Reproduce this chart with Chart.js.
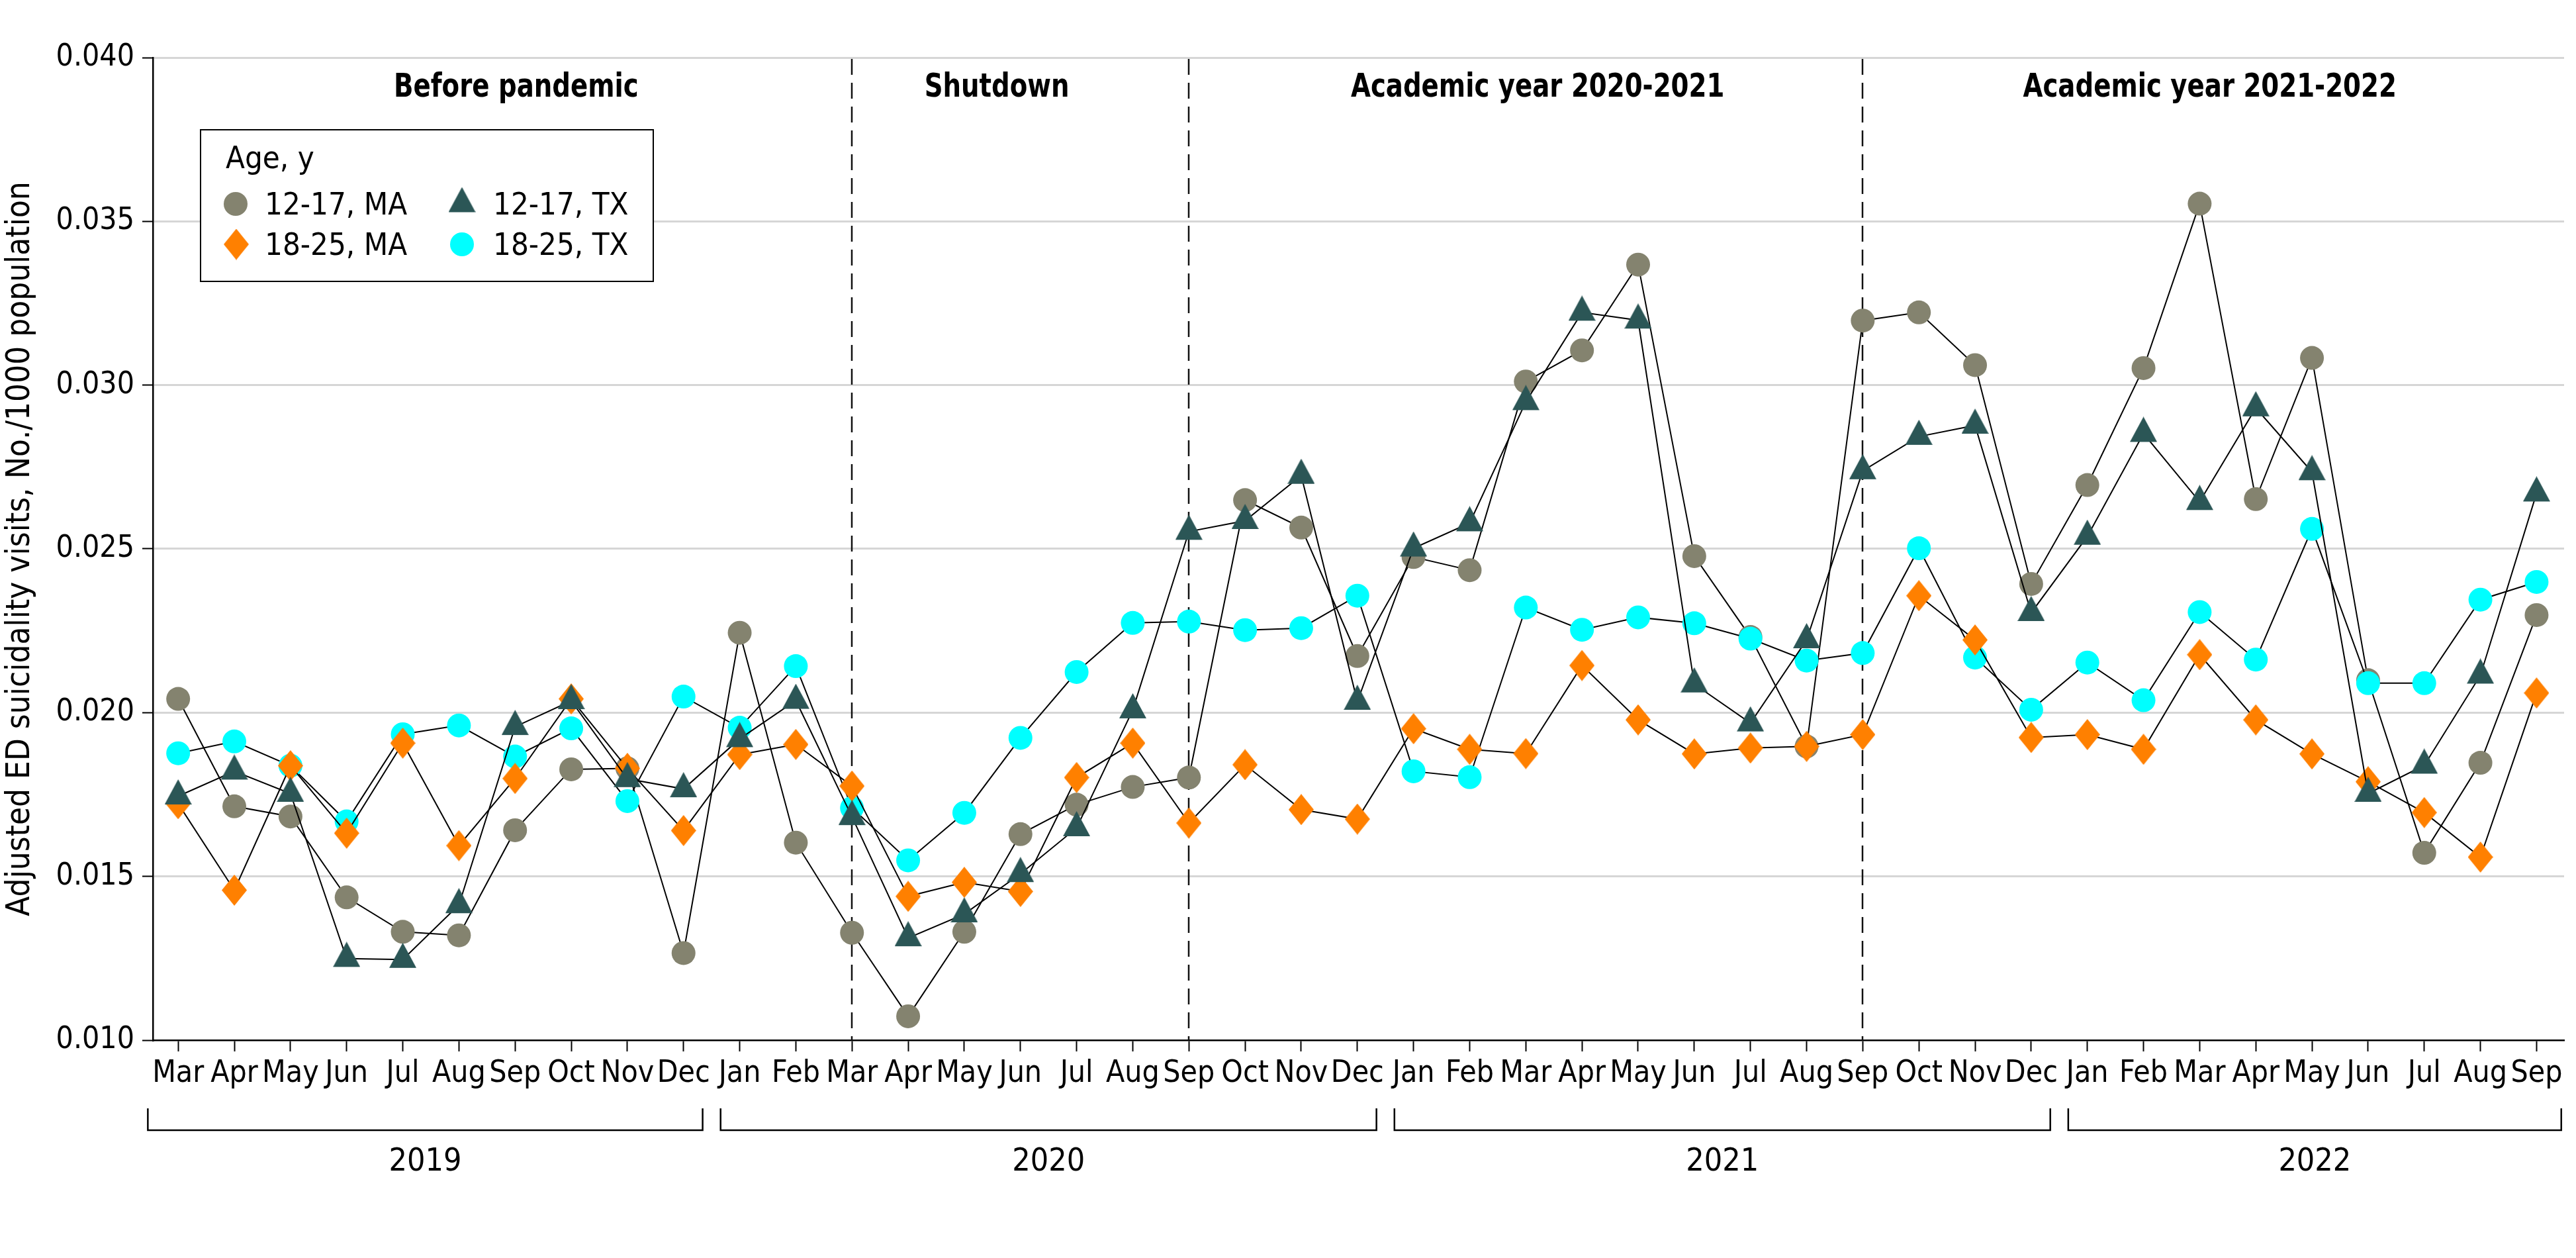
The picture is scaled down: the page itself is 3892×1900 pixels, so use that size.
<!DOCTYPE html>
<html>
<head>
<meta charset="utf-8">
<script src="https://cdn.jsdelivr.net/npm/chart.js@4.4.1/dist/chart.umd.min.js"></script>
<style>
  html, body { margin: 0; padding: 0; background: #fff; overflow: hidden; }
  #wrap { width: 3892px; height: 1900px; position: relative; }
</style>
</head>
<body>
<div id="wrap"><canvas id="chart"></canvas></div>
<script>
// ── DATA ────────────────────────────────────────────────
const MONTHS = [
  'Mar','Apr','May','Jun','Jul','Aug','Sep','Oct','Nov','Dec',
  'Jan','Feb','Mar','Apr','May','Jun','Jul','Aug','Sep','Oct','Nov','Dec',
  'Jan','Feb','Mar','Apr','May','Jun','Jul','Aug','Sep','Oct','Nov','Dec',
  'Jan','Feb','Mar','Apr','May','Jun','Jul','Aug','Sep'
];
const YEARS = ['2019', '2020', '2021', '2022'];
const PERIODS = ['Before pandemic', 'Shutdown', 'Academic year 2020-2021', 'Academic year 2021-2022'];
const PERIOD_BREAKS = [12, 18, 30];   // Mar 2020, Sep 2020, Sep 2021
const Y_TICKS = [0.010, 0.015, 0.020, 0.025, 0.030, 0.035, 0.040];

const ma1217 = [
  0.02042, 0.01714, 0.01683, 0.01436, 0.01331, 0.01320, 0.01641, 0.01827, 0.01830, 0.01266,
  0.02244, 0.01603, 0.01328, 0.01073, 0.01331, 0.01629, 0.01719, 0.01773, 0.01802, 0.02649, 0.02565, 0.02173,
  0.02475, 0.02435, 0.03011, 0.03106, 0.03368, 0.02478, 0.02231, 0.01897, 0.03197, 0.03222, 0.03061, 0.02393,
  0.02695, 0.03052, 0.03554, 0.02652, 0.03083, 0.02099, 0.01572, 0.01847, 0.02298
];
const tx1217 = [
  0.01745, 0.01821, 0.01753, 0.01249, 0.01246, 0.01413, 0.01957, 0.02036, 0.01798, 0.01767,
  0.01920, 0.02037, 0.01682, 0.01312, 0.01385, 0.01508, 0.01648, 0.02008, 0.02553, 0.02586, 0.02724, 0.02034,
  0.02502, 0.02579, 0.02949, 0.03222, 0.03198, 0.02087, 0.01968, 0.02222, 0.02738, 0.02843, 0.02877, 0.02305,
  0.02538, 0.02852, 0.02644, 0.02930, 0.02735, 0.01753, 0.01839, 0.02114, 0.02670
];
const ma1825 = [
  0.01722, 0.01458, 0.01838, 0.01632, 0.01907, 0.01594, 0.01799, 0.02042, 0.01830, 0.01640,
  0.01872, 0.01903, 0.01776, 0.01439, 0.01482, 0.01454, 0.01802, 0.01907, 0.01663, 0.01841, 0.01704, 0.01675,
  0.01951, 0.01888, 0.01875, 0.02144, 0.01978, 0.01874, 0.01892, 0.01897, 0.01933, 0.02357, 0.02222, 0.01924,
  0.01933, 0.01888, 0.02177, 0.01978, 0.01874, 0.01789, 0.01695, 0.01559, 0.02060
];
const tx1825 = [
  0.01876, 0.01912, 0.01838, 0.01668, 0.01934, 0.01961, 0.01866, 0.01952, 0.01730, 0.02049,
  0.01954, 0.02142, 0.01709, 0.01549, 0.01694, 0.01923, 0.02124, 0.02274, 0.02278, 0.02252, 0.02258, 0.02357,
  0.01821, 0.01803, 0.02321, 0.02253, 0.02291, 0.02273, 0.02226, 0.02159, 0.02182, 0.02502, 0.02168, 0.02009,
  0.02153, 0.02038, 0.02307, 0.02162, 0.02561, 0.02090, 0.02090, 0.02345, 0.02399
];

// ── STYLE ───────────────────────────────────────────────
const FONT = "'DejaVu Sans Condensed', 'DejaVu Sans', sans-serif";
const C_GRAY = '#84836f';
const C_TEAL = '#2b5656';
const C_ORANGE = '#ff8000';
const C_CYAN = '#00ffff';

// marker shapes drawn once on small canvases
function makeDiamond(w, h, color) {
  const c = document.createElement('canvas');
  c.width = w; c.height = h;
  const g = c.getContext('2d');
  g.fillStyle = color;
  g.beginPath();
  g.moveTo(w / 2, 0); g.lineTo(w, h / 2); g.lineTo(w / 2, h); g.lineTo(0, h / 2);
  g.closePath(); g.fill();
  return c;
}
function makeTriangle(w, h, color) {
  // centroid sits at canvas centre
  const c = document.createElement('canvas');
  c.width = w; c.height = Math.round(h * 4 / 3);
  const g = c.getContext('2d');
  g.fillStyle = color;
  g.beginPath();
  g.moveTo(w / 2, 0); g.lineTo(w, h); g.lineTo(0, h);
  g.closePath(); g.fill();
  return c;
}
const DIAMOND = makeDiamond(38, 47, C_ORANGE);
const TRIANGLE = makeTriangle(41, 38, C_TEAL);

const pts = arr => arr.map((v, i) => ({ x: i, y: v }));
const series = (label, data, style, color) => ({
  label, data: pts(data),
  borderColor: '#000', borderWidth: 2,
  pointStyle: style, pointRadius: 18, pointHoverRadius: 18,
  pointBackgroundColor: color, pointBorderColor: color, pointBorderWidth: 0,
  tension: 0, fill: false
});

// ── DECORATION PLUGIN ───────────────────────────────────
const TITLE_AT = [6.02, 14.58, 24.21, 36.18];
const YEAR_START = MONTHS.reduce((a, m, i) => (i === 0 || m === 'Jan') ? a.concat(i) : a, []);

// narrow text: draw at full height, squeeze horizontally
function narrowText(ctx, text, cx, y, squeeze) {
  ctx.save();
  ctx.translate(cx, y);
  ctx.scale(squeeze, 1);
  ctx.fillText(text, 0, 0);
  ctx.restore();
}

const decor = {
  id: 'decor',
  beforeDatasetsDraw(chart) {
    const { ctx, chartArea: a, scales: { x } } = chart;
    ctx.save();
    ctx.strokeStyle = '#111';
    ctx.lineWidth = 2.5;
    ctx.setLineDash([24, 12]);
    PERIOD_BREAKS.forEach(b => {
      const px = Math.round(x.getPixelForValue(b));
      ctx.beginPath(); ctx.moveTo(px, a.top + 2); ctx.lineTo(px, a.bottom); ctx.stroke();
    });
    ctx.restore();
  },
  afterDraw(chart) {
    const { ctx, scales: { x } } = chart;
    ctx.save();
    ctx.fillStyle = '#000';
    ctx.textAlign = 'center';
    ctx.textBaseline = 'alphabetic';

    // period titles
    ctx.font = `bold 50px ${FONT}`;
    PERIODS.forEach((t, i) => narrowText(ctx, t, x.getPixelForValue(TITLE_AT[i]), 146, 0.86));

    // year brackets
    ctx.strokeStyle = '#000';
    ctx.lineWidth = 2.5;
    ctx.font = `48px ${FONT}`;
    YEARS.forEach((yr, i) => {
      const first = YEAR_START[i];
      const last = i < YEARS.length - 1 ? YEAR_START[i + 1] - 1 : MONTHS.length - 1;
      const l = x.getPixelForValue(i === 0 ? -0.54 : first - 0.34);
      const r = x.getPixelForValue(i === YEARS.length - 1 ? last + 0.44 : last + 0.34);
      ctx.beginPath();
      ctx.moveTo(l, 1674); ctx.lineTo(l, 1707); ctx.lineTo(r, 1707); ctx.lineTo(r, 1674);
      ctx.stroke();
      ctx.fillText(yr, (l + r) / 2, 1768);
    });

    // legend box
    ctx.lineWidth = 2;
    ctx.fillStyle = '#fff';
    ctx.fillRect(303, 196, 684, 229);
    ctx.strokeRect(303, 196, 684, 229);
    ctx.fillStyle = '#000';
    ctx.textAlign = 'left';
    ctx.font = `47px ${FONT}`;
    ctx.fillText('Age, y', 341, 254);
    const ds = chart.data.datasets;
    const byLabel = l => ds.find(d => d.label === l);
    const items = [
      [byLabel('12-17, MA'), 356, 308, 400, 324],
      [byLabel('12-17, TX'), 698, 308, 745, 324],
      [byLabel('18-25, MA'), 357, 369, 400, 385],
      [byLabel('18-25, TX'), 698, 369, 745, 385]
    ];
    items.forEach(([d, mx, my, tx, ty]) => {
      if (d.pointStyle === 'circle') {
        ctx.fillStyle = d.pointBackgroundColor;
        ctx.beginPath(); ctx.arc(mx, my, 18, 0, Math.PI * 2); ctx.fill();
      } else {
        const s = d.pointStyle;
        ctx.drawImage(s, mx - s.width / 2, my - s.height / 2);
      }
      ctx.fillStyle = '#000';
      ctx.fillText(d.label, tx, ty);
    });
    ctx.restore();
  }
};

// ── CHART ───────────────────────────────────────────────
Chart.defaults.font.family = FONT;
Chart.defaults.color = '#000';

new Chart(document.getElementById('chart'), {
  type: 'line',
  data: {
    // first dataset is painted on top
    datasets: [
      series('12-17, TX', tx1217, TRIANGLE, C_TEAL),
      series('18-25, MA', ma1825, DIAMOND, C_ORANGE),
      series('18-25, TX', tx1825, 'circle', C_CYAN),
      series('12-17, MA', ma1217, 'circle', C_GRAY)
    ]
  },
  options: {
    responsive: true,
    maintainAspectRatio: false,
    devicePixelRatio: 1,
    animation: false,
    layout: { padding: { top: 87, right: 3, bottom: 0, left: 0 } },
    plugins: {
      legend: { display: false },
      tooltip: { enabled: false }
    },
    scales: {
      x: {
        type: 'linear',
        min: -0.45,
        max: 42.49,
        afterBuildTicks: s => { s.ticks = MONTHS.map((_, i) => ({ value: i })); },
        afterFit: s => { s.height = 329; },
        ticks: {
          autoSkip: false, maxRotation: 0, minRotation: 0,
          padding: 6,
          font: { size: 46, family: FONT },
          color: '#000',
          callback: v => MONTHS[v]
        },
        grid: { drawOnChartArea: false, tickLength: 17, tickColor: '#000', tickWidth: 2 },
        border: { color: '#000', width: 2.5 }
      },
      y: {
        min: 0.010,
        max: 0.040,
        afterBuildTicks: s => { s.ticks = Y_TICKS.map(v => ({ value: v })); },
        afterFit: s => { s.width = 231; },
        ticks: {
          padding: 12,
          font: { size: 46, family: FONT },
          color: '#000',
          callback: v => v.toFixed(3)
        },
        grid: {
          color: c => (c.tick && c.tick.value < 0.0101) ? 'rgba(0,0,0,0)' : '#d6d6d6',
          lineWidth: 3,
          tickLength: 16, tickColor: '#000', tickWidth: 2
        },
        border: { color: '#000', width: 2.5 },
        title: {
          display: true,
          text: 'Adjusted ED suicidality visits, No./1000 population',
          font: { size: 49, family: FONT },
          color: '#000',
          padding: { top: 2, bottom: 0 }
        }
      }
    }
  },
  plugins: [decor]
});
</script>
</body>
</html>
